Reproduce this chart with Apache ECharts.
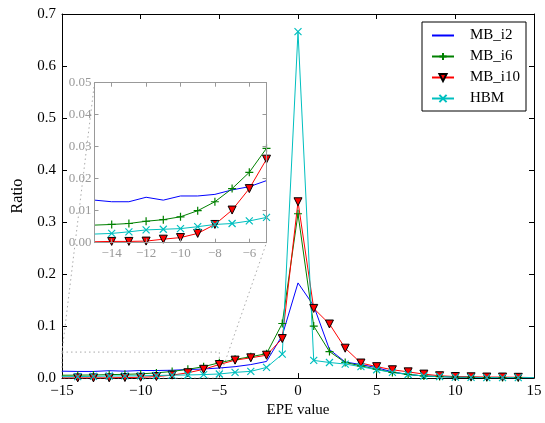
<!DOCTYPE html>
<html><head><meta charset="utf-8">
<script src="https://cdn.jsdelivr.net/npm/echarts@6/dist/echarts.min.js"></script>
<style>html,body{margin:0;padding:0;background:#fff}#c{width:545px;height:423px}</style>
</head><body><div id="c"></div>
<script>
// ---- data ----
const epe = [-15,-14,-13,-12,-11,-10,-9,-8,-7,-6,-5,-4,-3,-2,-1,0,1,2,3,4,5,6,7,8,9,10,11,12,13,14,15];
const mbI2 = [0.0133,0.0128,0.0128,0.0142,0.0133,0.0146,0.0146,0.0151,0.0165,0.0175,0.0194,0.022,0.026,0.032,0.082,0.183,0.139,0.055,0.031,0.026,0.020,0.012,0.007,0.004,0.003,0.002,0.0015,0.001,0.001,0.001,0.001];
const mbI6 = [0.0055,0.0057,0.006,0.0067,0.0072,0.0081,0.010,0.0128,0.0169,0.022,0.0295,0.036,0.041,0.047,0.105,0.316,0.100,0.051,0.030,0.0236,0.017,0.011,0.007,0.004,0.003,0.002,0.0015,0.001,0.001,0.001,0.001];
const mbI10 = [0.0003,0.0004,0.0004,0.0005,0.0011,0.0016,0.0029,0.0057,0.0102,0.0169,0.0261,0.0345,0.039,0.044,0.076,0.339,0.134,0.104,0.0575,0.029,0.022,0.016,0.012,0.0077,0.0045,0.003,0.0025,0.002,0.002,0.0015,0.001];
const hbm = [0.0027,0.0029,0.0034,0.004,0.0042,0.0044,0.005,0.0057,0.006,0.0068,0.0079,0.011,0.013,0.0205,0.046,0.666,0.034,0.030,0.027,0.022,0.016,0.011,0.007,0.004,0.003,0.002,0.0015,0.001,0.001,0.001,0.001];
const seriesNames = ['MB_i2','MB_i6','MB_i10','HBM'];
const mainXRange = [-15, 15];
const mainYRange = [0, 0.7];
const insetXRange = [-15, -5];
const insetYRange = [0, 0.05];
const insetXTicks = [-14, -12, -10, -8, -6];

// ---- styles ----
const FONT = 'Liberation Serif';
const fmtMinus = v => String(v).replace('-', '\u2212');
const PLUS = 'path://M0,5L10,5M5,0L5,10';
const CROSS = 'path://M0,0L10,10M10,0L0,10';
const BLANK = 'path://M0,0L10,0M0,10L10,10';
const styles = [
  {color:'#0000ff', symbol:BLANK, size:1, show:false, item:{color:'#0000ff', borderWidth:0}},
  {color:'#008000', symbol:PLUS, size:8, item:{color:'#008000', borderColor:'#008000', borderWidth:1.2}},
  {color:'#ff0000', symbol:'triangle', rotate:180, size:8, item:{color:'#ff0000', borderColor:'#000', borderWidth:1}},
  {color:'#00bfbf', symbol:CROSS, size:7, item:{color:'#00bfbf', borderColor:'#00bfbf', borderWidth:1.2}}
];
const allY = [mbI2, mbI6, mbI10, hbm];

function mk(i, xi, yi, z) {
  const st = styles[i];
  const n = epe.length;
  return {
    name: seriesNames[i], type: 'line', xAxisIndex: xi, yAxisIndex: yi, z: z,
    data: epe.map((x, k) => (k === 0 || k === n - 1) ? {value:[x, allY[i][k]], symbol:'none'} : [x, allY[i][k]]),
    symbol: st.symbol, symbolSize: st.size, symbolRotate: st.rotate || 0,
    showSymbol: st.show !== false, showAllSymbol: true,
    itemStyle: st.item,
    lineStyle: {color: st.color, width: 1},
    animation: false, silent: true, clip: true
  };
}

const mainAxisLine = {show:true, onZero:false, lineStyle:{color:'#000', width:1}};
const insetCol = '#999';
const insetAxisLine = {show:true, onZero:false, lineStyle:{color:insetCol, width:1}};

const option = {
  animation: false,
  backgroundColor: '#fff',
  textStyle: {fontFamily: FONT},
  grid: [
    {left:62, right:11, top:14, bottom:44, show:false},
    {left:94.5, top:82.7, width:172, height:160, show:true, backgroundColor:'#fff', borderWidth:0, z:5}
  ],
  xAxis: [
    {type:'value', gridIndex:0, position:'bottom', min:mainXRange[0], max:mainXRange[1], interval:5,
     axisLine:mainAxisLine, axisTick:{inside:true, length:5, lineStyle:{color:'#000'}},
     axisLabel:{formatter:fmtMinus, fontSize:15, color:'#000', fontFamily:FONT, margin:5},
     splitLine:{show:false}, name:'EPE value', nameLocation:'middle', nameGap:18,
     nameTextStyle:{fontSize:15, color:'#000', fontFamily:FONT}},
    {type:'value', gridIndex:0, position:'top', min:mainXRange[0], max:mainXRange[1], interval:5,
     axisLine:mainAxisLine, axisTick:{inside:true, length:5, lineStyle:{color:'#000'}},
     axisLabel:{show:false}, splitLine:{show:false}},
    {type:'value', gridIndex:1, position:'bottom', min:insetXRange[0], max:insetXRange[1], z:8,
     axisLine:insetAxisLine, axisTick:{inside:true, length:4, customValues:insetXTicks, lineStyle:{color:insetCol}},
     axisLabel:{customValues:insetXTicks, formatter:fmtMinus, fontSize:13, color:insetCol, fontFamily:FONT, margin:4},
     splitLine:{show:false}},
    {type:'value', gridIndex:1, position:'top', min:insetXRange[0], max:insetXRange[1], z:8,
     axisLine:insetAxisLine, axisTick:{inside:true, length:4, customValues:insetXTicks, lineStyle:{color:insetCol}},
     axisLabel:{show:false}, splitLine:{show:false}}
  ],
  yAxis: [
    {type:'value', gridIndex:0, position:'left', min:mainYRange[0], max:mainYRange[1], interval:0.1,
     axisLine:mainAxisLine, axisTick:{inside:true, length:5, lineStyle:{color:'#000'}},
     axisLabel:{formatter:v => v.toFixed(1), fontSize:15, color:'#000', fontFamily:FONT, margin:6},
     splitLine:{show:false}, name:'Ratio', nameLocation:'middle', nameGap:36, nameRotate:90,
     nameTextStyle:{fontSize:16, color:'#000', fontFamily:FONT}},
    {type:'value', gridIndex:0, position:'right', min:mainYRange[0], max:mainYRange[1], interval:0.1,
     axisLine:mainAxisLine, axisTick:{inside:true, length:5, lineStyle:{color:'#000'}},
     axisLabel:{show:false}, splitLine:{show:false}},
    {type:'value', gridIndex:1, position:'left', min:insetYRange[0], max:insetYRange[1], interval:0.01, z:8,
     axisLine:insetAxisLine, axisTick:{inside:true, length:4, lineStyle:{color:insetCol}},
     axisLabel:{formatter:v => v.toFixed(2), fontSize:13, color:insetCol, fontFamily:FONT, margin:3},
     splitLine:{show:false}},
    {type:'value', gridIndex:1, position:'right', min:insetYRange[0], max:insetYRange[1], interval:0.01, z:8,
     axisLine:insetAxisLine, axisTick:{inside:true, length:4, lineStyle:{color:insetCol}},
     axisLabel:{show:false}, splitLine:{show:false}}
  ],
  legend: {
    data: seriesNames,
    orient:'vertical', left:422, top:22,
    padding:[6, 6, 5, 9], itemGap:6, itemWidth:22, itemHeight:9,
    backgroundColor:'#fff', borderColor:'#000', borderWidth:1,
    textStyle:{fontSize:15, color:'#000', fontFamily:FONT, padding:[0,0,0,11]}, z:20
  },
  series: [
    {type:'line', xAxisIndex:0, yAxisIndex:0, z:1, silent:true, symbol:'none',
     data:[[insetXRange[0],insetYRange[1]],[insetXRange[1],insetYRange[1]],[insetXRange[1],insetYRange[0]],[insetXRange[0],insetYRange[0]],[insetXRange[0],insetYRange[1]]],
     lineStyle:{color:'#aaa', width:1, type:[1.5,3]}},
    mk(0,0,0,2), mk(1,0,0,2), mk(2,0,0,2), mk(3,0,0,2),
    mk(0,2,2,7), mk(1,2,2,7), mk(2,2,2,7), mk(3,2,2,7)
  ]
};

const chart = echarts.init(document.getElementById('c'), null, {renderer:'canvas'});
chart.setOption(option);
const a1 = chart.convertToPixel({gridIndex:0}, [insetXRange[0], insetYRange[1]]);
const b1 = chart.convertToPixel({gridIndex:1}, [insetXRange[0], insetYRange[1]]);
const a2 = chart.convertToPixel({gridIndex:0}, [insetXRange[1], insetYRange[0]]);
const b2 = chart.convertToPixel({gridIndex:1}, [insetXRange[1], insetYRange[0]]);
chart.setOption({graphic: [
  {type:'line', z:1, silent:true, shape:{x1:a1[0], y1:a1[1], x2:b1[0], y2:b1[1]}, style:{stroke:'#aaa', lineWidth:1, lineDash:[1.5,3]}},
  {type:'line', z:1, silent:true, shape:{x1:a2[0], y1:a2[1], x2:b2[0], y2:b2[1]}, style:{stroke:'#aaa', lineWidth:1, lineDash:[1.5,3]}}
]});
</script></body></html>
